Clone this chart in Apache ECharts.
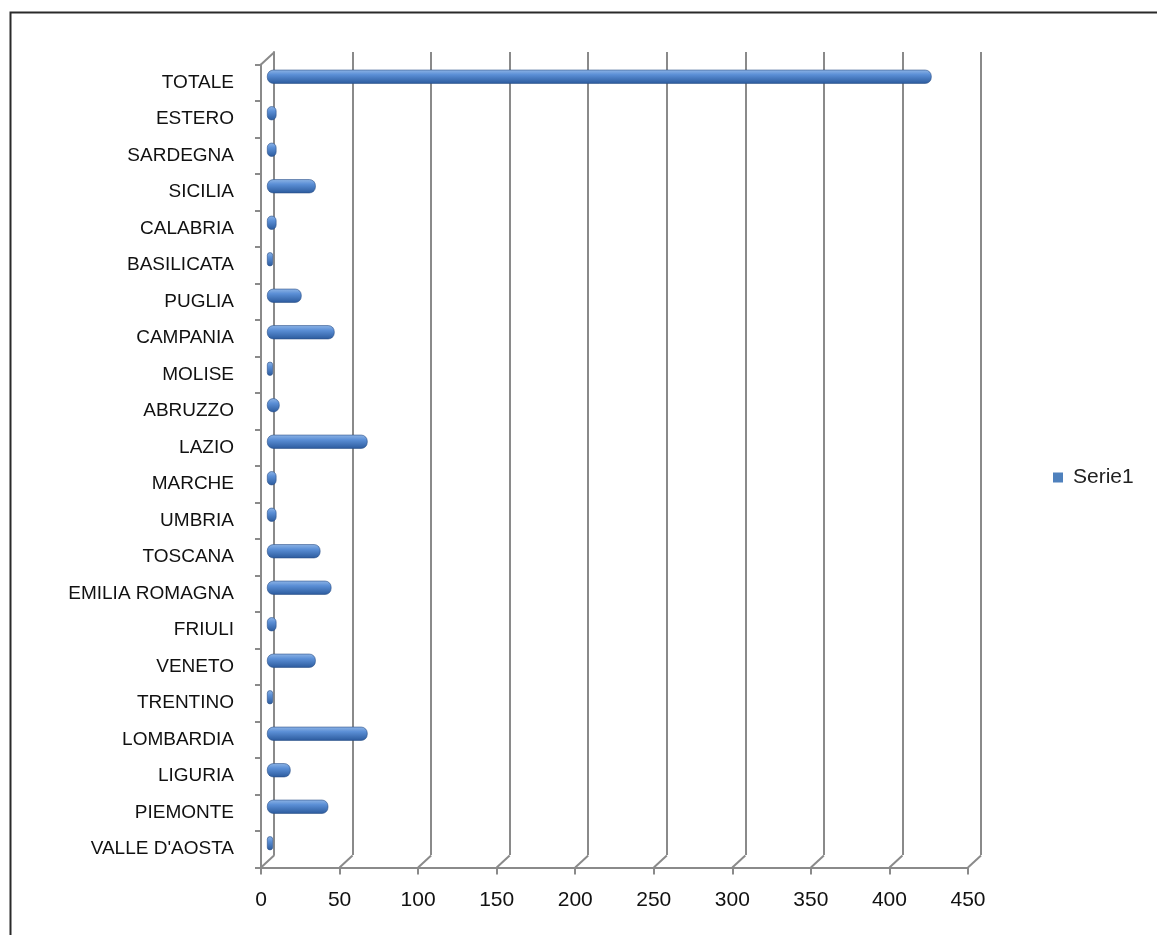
<!DOCTYPE html>
<html>
<head>
<meta charset="utf-8">
<script src="https://cdn.jsdelivr.net/npm/echarts@6/dist/echarts.min.js"></script>
<style>html,body{margin:0;padding:0;background:#fff}#c{width:1157px;height:935px}</style>
</head>
<body>
<div id="c"></div>
<script>
const categories = ["VALLE D'AOSTA","PIEMONTE","LIGURIA","LOMBARDIA","TRENTINO","VENETO","FRIULI","EMILIA ROMAGNA","TOSCANA","UMBRIA","MARCHE","LAZIO","ABRUZZO","MOLISE","CAMPANIA","PUGLIA","BASILICATA","CALABRIA","SICILIA","SARDEGNA","ESTERO","TOTALE"];
const serie1 = [2,39,15,64,2,31,6,41,34,6,6,64,8,2,43,22,3,6,31,6,6,423];
const seriesName = "Serie1";
const xMin = 0, xMax = 450, xStep = 50;
const xTicks = [0,50,100,150,200,250,300,350,400,450];

const chart = echarts.init(document.getElementById('c'));
const font = "'Liberation Sans', Arial, sans-serif";
const gray = '#8a8a8a';
const DX = 13, DY = -12; // 3D depth offset of back wall

chart.setOption({
  animation: false,
  backgroundColor: '#fff',
  graphic: [{
    type: 'rect', left: 8, top: 10, z: 100, silent: true,
    shape: {width: 1170, height: 950},
    style: {fill: 'none', stroke: '#2a2a2a', lineWidth: 2}
  }],
  legend: {
    orient: 'vertical', left: 1053, top: 467, padding: 0,
    icon: 'rect', itemWidth: 10, itemHeight: 10, itemGap: 6,
    itemStyle: {color: '#4f81bd', borderWidth: 0},
    textStyle: {fontFamily: font, fontSize: 21, color: '#222', padding: [0, 0, 0, 5]},
    data: [seriesName]
  },
  grid: [
    {left: 274, width: 707, top: 52, height: 803},   // back wall
    {left: 261, width: 707, top: 64.5, height: 803}, // front axes
    {left: 267, width: 707, top: 58.5, height: 803}  // bars (mid depth)
  ],
  xAxis: [
    {gridIndex: 0, type: 'value', min: xMin, max: xMax, interval: xStep,
     axisLine: {show: false}, axisTick: {show: false}, axisLabel: {show: false},
     splitLine: {show: true, lineStyle: {color: gray, width: 2}}},
    {gridIndex: 1, type: 'value', min: xMin, max: xMax, interval: xStep,
     axisLine: {show: true, lineStyle: {color: gray, width: 2}},
     axisTick: {show: true, length: 7, lineStyle: {color: gray, width: 2}},
     axisLabel: {fontFamily: font, fontSize: 21, color: '#111', margin: 22},
     splitLine: {show: false}},
    {gridIndex: 2, type: 'value', min: xMin, max: xMax, show: false}
  ],
  yAxis: [
    {gridIndex: 0, type: 'category', data: categories,
     axisLine: {show: true, lineStyle: {color: gray, width: 2}},
     axisTick: {show: false}, axisLabel: {show: false}, splitLine: {show: false}},
    {gridIndex: 1, type: 'category', data: categories,
     axisLine: {show: true, lineStyle: {color: gray, width: 2}},
     axisTick: {show: true, length: 6, lineStyle: {color: gray, width: 2}},
     axisLabel: {fontFamily: font, fontSize: 19, color: '#111', margin: 27},
     splitLine: {show: false}},
    {gridIndex: 2, type: 'category', data: categories, show: false}
  ],
  series: [{
    name: seriesName, type: 'bar', xAxisIndex: 2, yAxisIndex: 2,
    data: serie1, barWidth: 14, barMinHeight: 6, z: 5,
    itemStyle: {
      color: new echarts.graphic.LinearGradient(0, 0, 0, 1, [
        {offset: 0, color: '#8fb5e6'},
        {offset: 0.35, color: '#5b8fd6'},
        {offset: 1, color: '#2b5a9c'}
      ]),
      borderColor: '#2a4f86', borderWidth: 0.6, borderRadius: 6
    }
  }, {
    type: 'custom', xAxisIndex: 1, yAxisIndex: 1, silent: true, z: 1,
    data: xTicks.map(v => [v]),
    renderItem: function (params, api) {
      const cs = params.coordSys;
      const x = api.coord([api.value(0), categories[0]])[0];
      const yb = cs.y + cs.height;
      const children = [{
        type: 'line', shape: {x1: x, y1: yb, x2: x + DX, y2: yb + DY},
        style: {stroke: gray, lineWidth: 2}
      }];
      if (params.dataIndex === 0) {
        children.push({
          type: 'line', shape: {x1: x, y1: cs.y, x2: x + DX, y2: cs.y + DY},
          style: {stroke: gray, lineWidth: 2}
        });
      }
      return {type: 'group', children: children};
    }
  }]
});
</script>
</body>
</html>
